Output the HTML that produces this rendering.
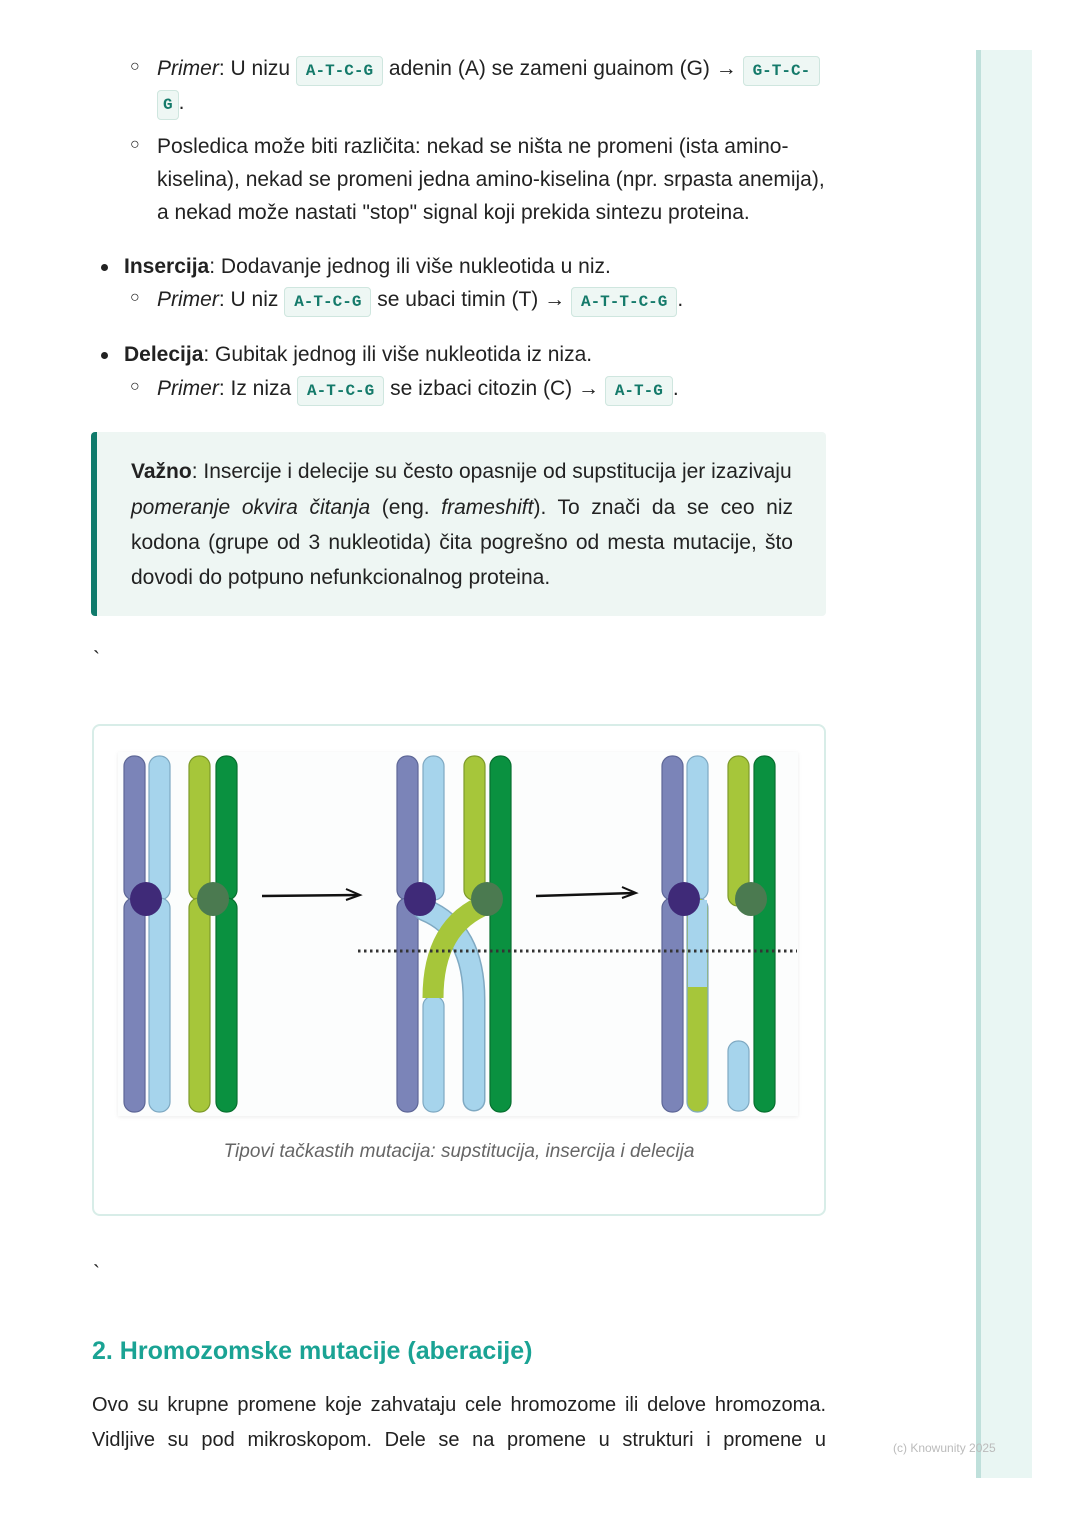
<!DOCTYPE html>
<html><head><meta charset="utf-8"><style>
body{margin:0;width:1080px;height:1528px;background:#fff;position:relative;overflow:hidden;font-family:"Liberation Sans",sans-serif;color:#222;font-size:21px}
.l{position:absolute;white-space:nowrap;line-height:24px}
.j{text-align:justify;text-align-last:justify;white-space:normal}
code{font-family:"Liberation Mono",monospace;font-weight:bold;font-size:16px;color:#147a6a;background:#eef7f4;border:1px solid #cfe6df;border-radius:4px;padding:5px 9px}
.b{position:absolute;font-size:16px;font-weight:bold}
.d{position:absolute;width:7px;height:7px;border-radius:50%;background:#222}
i{font-style:italic}
</style></head><body>
<div style="position:absolute;left:976px;top:50px;width:56px;height:1428px;background:#e9f6f3;border-left:5px solid #bfe0db;box-sizing:border-box"></div>
<div class="l" style="left:893px;top:1436px;font-size:12px;color:#bbb">(c) Knowunity 2025</div>

<div class="b" style="left:130px;top:58px">○</div>
<div class="l" style="left:157px;top:57px"><i>Primer</i>: U nizu <code>A-T-C-G</code> adenin (A) se zameni guainom (G) → <code>G-T-C-</code></div>
<div class="l" style="left:157px;top:91px"><code style="padding:5px 5px">G</code>.</div>
<div class="b" style="left:130px;top:136px">○</div>
<div class="l" style="left:157px;top:135px">Posledica može biti različita: nekad se ništa ne promeni (ista amino-</div>
<div class="l" style="left:157px;top:168px">kiselina), nekad se promeni jedna amino-kiselina (npr. srpasta anemija),</div>
<div class="l" style="left:157px;top:201px">a nekad može nastati "stop" signal koji prekida sintezu proteina.</div>

<div class="d" style="left:101px;top:264px"></div>
<div class="l" style="left:124px;top:255px"><b>Insercija</b>: Dodavanje jednog ili više nukleotida u niz.</div>
<div class="b" style="left:130px;top:289px">○</div>
<div class="l" style="left:157px;top:288px"><i>Primer</i>: U niz <code>A-T-C-G</code> se ubaci timin (T) → <code>A-T-T-C-G</code>.</div>
<div class="d" style="left:101px;top:352px"></div>
<div class="l" style="left:124px;top:343px"><b>Delecija</b>: Gubitak jednog ili više nukleotida iz niza.</div>
<div class="b" style="left:130px;top:378px">○</div>
<div class="l" style="left:157px;top:377px"><i>Primer</i>: Iz niza <code>A-T-C-G</code> se izbaci citozin (C) → <code>A-T-G</code>.</div>

<div style="position:absolute;left:91px;top:432px;width:735px;height:184px;background:#eef6f3;border-left:6px solid #0f7a6b;border-radius:4px;box-sizing:border-box"></div>
<div class="l" style="left:131px;top:460px"><b>Važno</b>: Insercije i delecije su često opasnije od supstitucija jer izazivaju</div>
<div class="l j" style="left:131px;top:496px;width:662px"><i>pomeranje okvira čitanja</i> (eng. <i>frameshift</i>). To znači da se ceo niz</div>
<div class="l j" style="left:131px;top:531px;width:662px">kodona (grupe od 3 nukleotida) čita pogrešno od mesta mutacije, što</div>
<div class="l" style="left:131px;top:566px">dovodi do potpuno nefunkcionalnog proteina.</div>

<div class="l" style="left:93px;top:648px">`</div>

<div style="position:absolute;left:92px;top:724px;width:734px;height:492px;border:2px solid #d8ede8;border-radius:8px;box-sizing:border-box"></div>
<div style="position:absolute;left:118px;top:752px;width:680px;height:364px;background:#fcfdfd;box-shadow:0 1px 4px rgba(0,0,0,.08)"></div>
<svg style="position:absolute;left:0;top:0" width="1080" height="1528">
<g stroke-width="1.2">
<rect x="124" y="756" width="21" height="144" rx="10" fill="#7b84b8" stroke="#5e6797"/>
<rect x="124" y="898" width="21" height="214" rx="10" fill="#7b84b8" stroke="#5e6797"/>
<rect x="149" y="756" width="21" height="144" rx="10" fill="#a6d4ec" stroke="#7fa9c2"/>
<rect x="149" y="898" width="21" height="214" rx="10" fill="#a6d4ec" stroke="#7fa9c2"/>
<rect x="189" y="756" width="21" height="144" rx="10" fill="#a6c63a" stroke="#7d9a2a"/>
<rect x="189" y="898" width="21" height="214" rx="10" fill="#a6c63a" stroke="#7d9a2a"/>
<rect x="216" y="756" width="21" height="144" rx="10" fill="#0a9140" stroke="#07702f"/>
<rect x="216" y="898" width="21" height="214" rx="10" fill="#0a9140" stroke="#07702f"/>
<ellipse cx="146" cy="899" rx="16" ry="17" fill="#3f2a78"/>
<ellipse cx="213" cy="899" rx="16" ry="17" fill="#4b7a50"/>
<rect x="397" y="756" width="21" height="144" rx="10" fill="#7b84b8" stroke="#5e6797"/>
<rect x="397" y="898" width="21" height="214" rx="10" fill="#7b84b8" stroke="#5e6797"/>
<rect x="423" y="756" width="21" height="144" rx="10" fill="#a6d4ec" stroke="#7fa9c2"/>
<rect x="464" y="756" width="21" height="144" rx="10" fill="#a6c63a" stroke="#7d9a2a"/>
<rect x="490" y="756" width="21" height="356" rx="10" fill="#0a9140" stroke="#07702f"/>
<path d="M425 910 Q474 930 474 1000 L474 1100" fill="none" stroke="#7fa9c2" stroke-width="23" stroke-linecap="round"/>
<path d="M425 910 Q474 930 474 1000 L474 1100" fill="none" stroke="#a6d4ec" stroke-width="20" stroke-linecap="round"/>
<rect x="423" y="996" width="21" height="116" rx="10" fill="#a6d4ec" stroke="#7fa9c2"/>
<path d="M487 904 Q433 925 433 998" fill="none" stroke="#a6c63a" stroke-width="21"/>
<ellipse cx="420" cy="899" rx="16" ry="17" fill="#3f2a78"/>
<ellipse cx="487" cy="899" rx="16" ry="17" fill="#4b7a50"/>
<rect x="662" y="756" width="21" height="144" rx="10" fill="#7b84b8" stroke="#5e6797"/>
<rect x="662" y="898" width="21" height="214" rx="10" fill="#7b84b8" stroke="#5e6797"/>
<rect x="687" y="756" width="21" height="144" rx="10" fill="#a6d4ec" stroke="#7fa9c2"/>
<rect x="687" y="898" width="21" height="214" rx="10" fill="#a6c63a" stroke="#7fa9c2"/>
<rect x="688" y="900" width="19" height="87" fill="#a6d4ec"/>
<rect x="728" y="756" width="21" height="150" rx="10" fill="#a6c63a" stroke="#7d9a2a"/>
<rect x="754" y="756" width="21" height="356" rx="10" fill="#0a9140" stroke="#07702f"/>
<rect x="728" y="1041" width="21" height="70" rx="10" fill="#a6d4ec" stroke="#7fa9c2"/>
<ellipse cx="684" cy="899" rx="16" ry="17" fill="#3f2a78"/>
<ellipse cx="751" cy="899" rx="16" ry="17" fill="#4b7a50"/>
</g>
<line x1="358" y1="951" x2="797" y2="951" stroke="#333" stroke-width="3" stroke-dasharray="2.5 3.5"/>
<path d="M262 896 L358 895" stroke="#111" stroke-width="2.5"/><path d="M346 889 L360 895 L346 900" fill="none" stroke="#111" stroke-width="2"/>
<path d="M536 896 L634 893" stroke="#111" stroke-width="2.5"/><path d="M622 887 L636 893 L622 898" fill="none" stroke="#111" stroke-width="2"/>
</svg>
<div class="l" style="left:92px;top:1140px;width:734px;text-align:center;font-style:italic;color:#666;font-size:19px">Tipovi tačkastih mutacija: supstitucija, insercija i delecija</div>

<div class="l" style="left:93px;top:1262px">`</div>

<div class="l" style="left:92px;top:1336px;font-size:25px;font-weight:bold;color:#1aa394;line-height:30px">2. Hromozomske mutacije (aberacije)</div>
<div class="l j" style="left:92px;top:1393px;width:734px;font-size:20px">Ovo su krupne promene koje zahvataju cele hromozome ili delove hromozoma.</div>
<div class="l j" style="left:92px;top:1428px;width:734px;font-size:20px">Vidljive su pod mikroskopom. Dele se na promene u strukturi i promene u</div>
</body></html>
